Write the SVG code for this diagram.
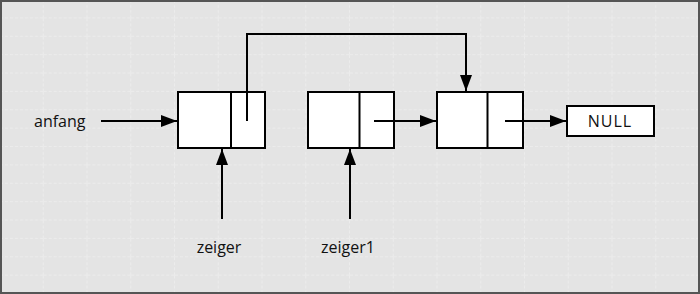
<svg xmlns="http://www.w3.org/2000/svg" width="700" height="294" viewBox="0 0 700 294">
  <defs>
    <pattern id="grid" width="43.75" height="18.375" patternUnits="userSpaceOnUse">
      <path d="M43.75 0V18.375M0 18.375H43.75" fill="none" stroke="#f4f4f4" stroke-width="1" stroke-dasharray="3 2"/>
    </pattern>
    <marker id="arrow" viewBox="0 0 16 12" refX="16" refY="6" markerWidth="16" markerHeight="12" markerUnits="userSpaceOnUse" orient="auto">
      <path d="M0 0L16 6L0 12Z" fill="#000"/>
    </marker>
  </defs>
  <style>
    .cell { fill: #fff; stroke: #000; stroke-width: 2; }
    .wire { fill: none; stroke: #000; stroke-width: 2; }
    .lbl { font-family: "Open Sans", "Noto Sans", sans-serif; font-size: 16px; fill: #111; }
  </style>

  <!-- background with grid and frame -->
  <rect x="0" y="0" width="700" height="294" fill="#e4e4e4"/>
  <rect x="0" y="0" width="700" height="294" fill="url(#grid)"/>
  <rect x="1" y="1" width="698" height="292" fill="none" stroke="#555" stroke-width="2"/>

  <!-- list elements -->
  <g id="node1">
    <rect class="cell" x="178" y="92" width="87" height="56"/>
    <line class="wire" x1="231" y1="92" x2="231" y2="148"/>
  </g>
  <g id="node2">
    <rect class="cell" x="308" y="92" width="86" height="56"/>
    <line class="wire" x1="359.5" y1="92" x2="359.5" y2="148"/>
  </g>
  <g id="node3">
    <rect class="cell" x="437" y="92" width="86" height="56"/>
    <line class="wire" x1="487.5" y1="92" x2="487.5" y2="148"/>
  </g>
  <g id="null">
    <rect class="cell" x="567" y="106" width="87" height="30"/>
    <text x="610" y="127" text-anchor="middle" class="lbl" letter-spacing="1">NULL</text>
  </g>

  <!-- pointer names -->
  <g id="anfang">
    <text x="34" y="127" class="lbl">anfang</text>
  </g>
  <g id="zeiger">
    <text x="219" y="253" text-anchor="middle" class="lbl">zeiger</text>
  </g>
  <g id="zeiger1">
    <text x="348" y="253" text-anchor="middle" class="lbl">zeiger1</text>
  </g>

  <!-- connectors -->
  <g id="connectors">
    <line class="wire" x1="101" y1="121" x2="177" y2="121" marker-end="url(#arrow)"/>
    <polyline class="wire" points="247,121 247,34 466,34 466,91" marker-end="url(#arrow)"/>
    <line class="wire" x1="374" y1="121" x2="436" y2="121" marker-end="url(#arrow)"/>
    <line class="wire" x1="505" y1="121" x2="566" y2="121" marker-end="url(#arrow)"/>
    <line class="wire" x1="222" y1="219" x2="222" y2="149" marker-end="url(#arrow)"/>
    <line class="wire" x1="350" y1="219" x2="350" y2="149" marker-end="url(#arrow)"/>
  </g>
</svg>
